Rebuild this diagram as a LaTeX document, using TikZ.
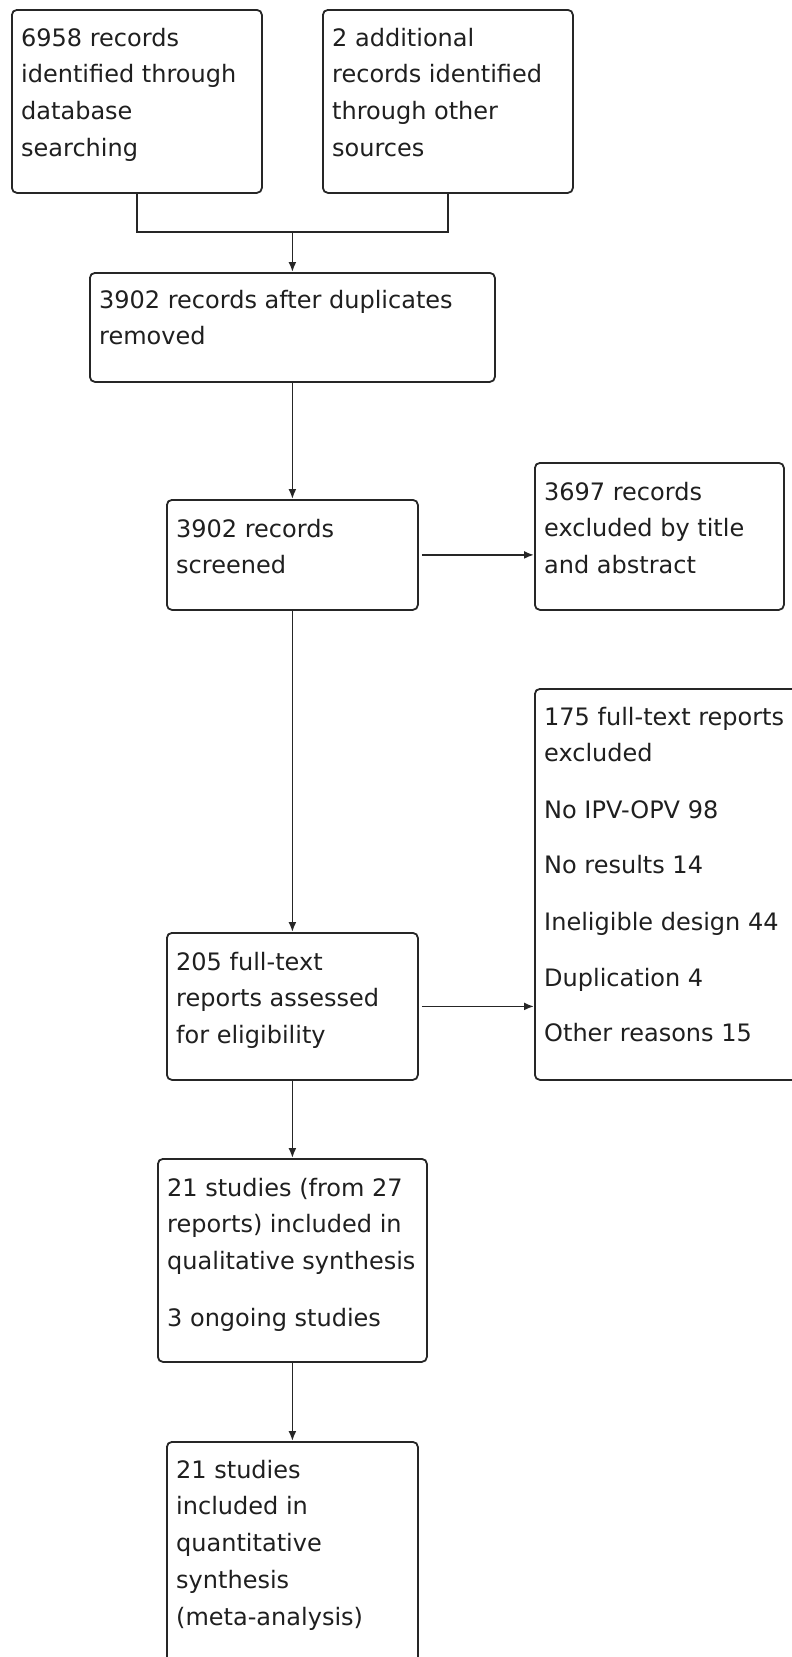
\documentclass[tikz,border=0pt]{standalone}
\usepackage{fontspec}
\setmainfont{DejaVu Sans}
\usetikzlibrary{arrows.meta,calc}
\begin{document}
\begin{tikzpicture}[x=1pt,y=-1pt,
  box/.style={draw=black!85,line width=1.8pt,rounded corners=5pt,fill=white,inner sep=0pt,anchor=north west},
  txt/.style={anchor=north west,inner sep=0pt,align=left,text=black!88,
    font=\fontsize{24}{36.7}\selectfont},
  arr/.style={draw=black!85,line width=1.8pt,-{Latex[length=10pt,width=8pt]}},
  ln/.style={draw=black!85,line width=1.8pt}]
\clip (0,0) rectangle (792,1657);
\fill[white] (0,0) rectangle (792,1657);
% boxes
\node[box,minimum width=250pt,minimum height=183pt] (b1) at (11,9) {};
\node[box,minimum width=250pt,minimum height=183pt] (b2) at (322,9) {};
\node[box,minimum width=405pt,minimum height=109pt] (b3) at (89,272) {};
\node[box,minimum width=251pt,minimum height=110pt] (b4) at (166,499) {};
\node[box,minimum width=249pt,minimum height=147pt] (b5) at (534,462) {};
\node[box,minimum width=251pt,minimum height=147pt] (b6) at (166,932) {};
\node[box,minimum width=300pt,minimum height=391pt] (b7) at (534,688) {};
\node[box,minimum width=269pt,minimum height=203pt] (b8) at (157,1158) {};
\node[box,minimum width=251pt,minimum height=260pt] (b9) at (166,1441) {};
% texts
\node[txt] (t1) at ($(b1.north west)+(10,11)$) {\rule{0pt}{26pt}6958 records\\identified through\\database\\searching};
\node[txt] (t2) at ($(b2.north west)+(10,11)$) {\rule{0pt}{26pt}2 additional\\records identified\\through other\\sources};
\node[txt] (t3) at ($(b3.north west)+(10,10)$) {\rule{0pt}{26pt}3902 records after duplicates\\removed};
\node[txt] (t4) at ($(b4.north west)+(10,12)$) {\rule{0pt}{26pt}3902 records\\screened};
\node[txt] (t5) at ($(b5.north west)+(10,12)$) {\rule{0pt}{26pt}3697 records\\excluded by title\\and abstract};
\node[txt] (t6) at ($(b6.north west)+(10,12)$) {\rule{0pt}{26pt}205 full-text\\reports assessed\\for eligibility};
\node[txt] (t7) at ($(b7.north west)+(10,11)$) {\rule{0pt}{26pt}175 full-text reports\\excluded\\[20pt]No IPV-OPV 98\\[18pt]No results 14\\[20pt]Ineligible design 44\\[20pt]Duplication 4\\[18pt]Other reasons 15};
\node[txt] (t8) at ($(b8.north west)+(10,12)$) {\rule{0pt}{26pt}21 studies (from 27\\reports) included in\\qualitative synthesis\\[20pt]3 ongoing studies};
\node[txt] (t9) at ($(b9.north west)+(10,11)$) {\rule{0pt}{26pt}21 studies\\included in\\quantitative\\synthesis\\(meta-analysis)};
% connectors
\coordinate (m) at ($(b3.north)+(0,-40)$);
\draw[ln] (b1.south) -- (b1.south |- m) -- (b2.south |- m) -- (b2.south);
\draw[arr] (m) -- (b3.north);
\draw[arr] (b3.south) -- (b4.north);
\draw[arr,shorten <=3pt] (b4.east) -- (b4.east -| b5.west);
\draw[arr] (b4.south) -- (b6.north);
\draw[arr,shorten <=3pt] (b6.east) -- (b6.east -| b7.west);
\draw[arr] (b6.south) -- (b8.north);
\draw[arr] (b8.south) -- (b9.north);
\end{tikzpicture}
\end{document}
